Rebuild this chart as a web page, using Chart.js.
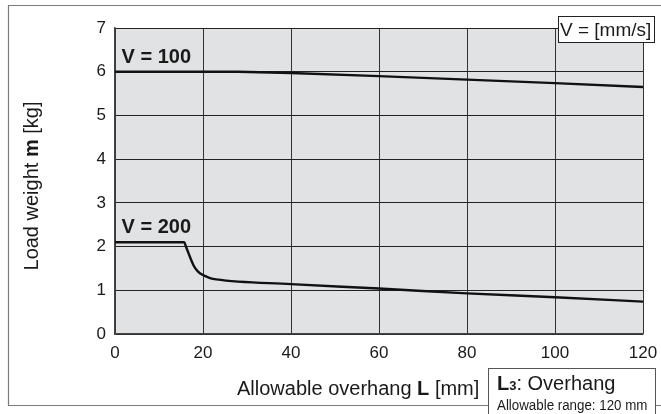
<!DOCTYPE html>
<html>
<head>
<meta charset="utf-8">
<script src="https://cdn.jsdelivr.net/npm/chart.js@4"></script>
<style>
  html, body { margin: 0; padding: 0; background: #fff; }
  #wrap { width: 661px; height: 414px; position: relative; }
</style>
</head>
<body>
<div id="wrap"><canvas id="loadChart" width="661" height="414"></canvas></div>
<script>
// overhang L [mm] / load m [kg]
const v100X = [0, 28, 40, 60, 80, 100, 120];
const v100Y = [6.0, 6.0, 5.97, 5.9, 5.82, 5.74, 5.65];

const v200X = [0, 15.7, 16.2, 16.7, 17.2, 17.8, 18.5, 19.3, 20.4, 21.6, 23, 40, 60, 80, 100, 120];
const v200Y = [2.1, 2.1, 1.98, 1.85, 1.72, 1.58, 1.47, 1.39, 1.33, 1.28, 1.25, 1.14, 1.04, 0.93, 0.84, 0.74];

const xTicks = [0, 20, 40, 60, 80, 100, 120];
const yTicks = [0, 1, 2, 3, 4, 5, 6, 7];
const seriesNames = ['V = 100', 'V = 200'];

const FONT = '"Liberation Sans", Arial, Helvetica, sans-serif';

function toPoints(xs, ys) {
    return xs.map((x, i) => ({ x: x, y: ys[i] }));
}

// draws a run of text pieces, some bold, starting at x
function drawRuns(ctx, runs, x, y) {
    runs.forEach(r => {
        ctx.font = (r.bold ? 'bold ' : '') + r.size + 'px ' + FONT;
        ctx.fillText(r.text, x, y);
        x += ctx.measureText(r.text).width;
    });
    return x;
}

function runsWidth(ctx, runs) {
    let w = 0;
    runs.forEach(r => {
        ctx.font = (r.bold ? 'bold ' : '') + r.size + 'px ' + FONT;
        w += ctx.measureText(r.text).width;
    });
    return w;
}

const decor = {
    id: 'decor',
    beforeDraw(chart) {
        const ctx = chart.ctx;
        const a = chart.chartArea;
        ctx.save();
        // outer frame
        ctx.strokeStyle = '#7a7a7a';
        ctx.lineWidth = 1.2;
        ctx.beginPath();
        ctx.moveTo(700, 5.5);
        ctx.lineTo(8.5, 5.5);
        ctx.lineTo(8.5, 405.5);
        ctx.lineTo(700, 405.5);
        ctx.stroke();
        // plot background
        ctx.fillStyle = '#e1e2e3';
        ctx.fillRect(a.left, a.top, a.right - a.left, a.bottom - a.top);
        ctx.restore();
    },
    afterDraw(chart) {
        const ctx = chart.ctx;
        const xs = chart.scales.x;
        const ys = chart.scales.y;
        ctx.save();
        ctx.fillStyle = '#1a1a1a';
        ctx.textBaseline = 'alphabetic';

        // series labels
        ctx.font = 'bold 20px ' + FONT;
        ctx.fillText(seriesNames[0], xs.getPixelForValue(1.5), ys.getPixelForValue(6.2));
        ctx.fillText(seriesNames[1], xs.getPixelForValue(1.5), ys.getPixelForValue(2.32));

        // units box
        ctx.font = '19px ' + FONT;
        ctx.fillStyle = '#fff';
        ctx.fillRect(558, 16, 96, 26);
        ctx.strokeStyle = '#222';
        ctx.lineWidth = 1;
        ctx.strokeRect(558.5, 16.5, 96, 26);
        ctx.fillStyle = '#1a1a1a';
        ctx.fillText('V = [mm/s]', 560, 36);

        // x title
        const xRuns = [
            { text: 'Allowable overhang ', size: 20 },
            { text: 'L', size: 20, bold: true },
            { text: ' [mm]', size: 20 }
        ];
        drawRuns(ctx, xRuns, 237, 395);

        // y title, rotated
        const yRuns = [
            { text: 'Load weight ', size: 20 },
            { text: 'm', size: 20, bold: true },
            { text: ' [kg]', size: 20 }
        ];
        ctx.save();
        ctx.translate(38, (ys.top + ys.bottom) / 2 + 5);
        ctx.rotate(-Math.PI / 2);
        drawRuns(ctx, yRuns, -runsWidth(ctx, yRuns) / 2, 0);
        ctx.restore();

        // overhang note box
        ctx.fillStyle = '#fff';
        ctx.fillRect(488, 368, 167, 50);
        ctx.strokeStyle = '#555';
        ctx.strokeRect(488.5, 368.5, 167, 50);
        ctx.fillStyle = '#1a1a1a';
        drawRuns(ctx, [
            { text: 'L', size: 20, bold: true },
            { text: '3', size: 13, bold: true },
            { text: ': Overhang', size: 20 }
        ], 497, 390);
        ctx.save();
        ctx.translate(497, 410);
        ctx.scale(0.86, 1);
        ctx.font = '15.5px ' + FONT;
        ctx.fillText('Allowable range: 120 mm', 0, 0);
        ctx.restore();

        ctx.restore();
    }
};

new Chart(document.getElementById('loadChart').getContext('2d'), {
    type: 'scatter',
    data: {
        datasets: [
            {
                label: seriesNames[0],
                data: toPoints(v100X, v100Y),
                showLine: true,
                borderColor: '#111',
                borderWidth: 2.4,
                pointRadius: 0,
                tension: 0
            },
            {
                label: seriesNames[1],
                data: toPoints(v200X, v200Y),
                showLine: true,
                borderColor: '#111',
                borderWidth: 2.4,
                pointRadius: 0,
                cubicInterpolationMode: 'monotone'
            }
        ]
    },
    options: {
        responsive: false,
        animation: false,
        layout: { padding: { left: 0, top: 28, right: 18, bottom: 0 } },
        plugins: {
            legend: { display: false },
            tooltip: { enabled: false }
        },
        scales: {
            x: {
                type: 'linear',
                min: 0,
                max: 120,
                afterBuildTicks: s => { s.ticks = xTicks.map(v => ({ value: v })); },
                afterFit: s => { s.height = 80; s.paddingLeft = 0; s.paddingRight = 0; },
                grid: { color: '#333', lineWidth: 1, drawTicks: false },
                border: { color: '#444', width: 1.5 },
                ticks: {
                    color: '#1a1a1a',
                    padding: 9,
                    font: { family: FONT, size: 17 },
                    maxRotation: 0
                }
            },
            y: {
                min: 0,
                max: 7,
                afterBuildTicks: s => { s.ticks = yTicks.map(v => ({ value: v })); },
                afterFit: s => { s.width = 115; s.paddingTop = 0; s.paddingBottom = 0; },
                grid: { color: '#222', lineWidth: 1, drawTicks: false },
                border: { color: '#444', width: 1.5 },
                ticks: {
                    color: '#1a1a1a',
                    padding: 9,
                    font: { family: FONT, size: 17 }
                }
            }
        }
    },
    plugins: [decor]
});
</script>
</body>
</html>
